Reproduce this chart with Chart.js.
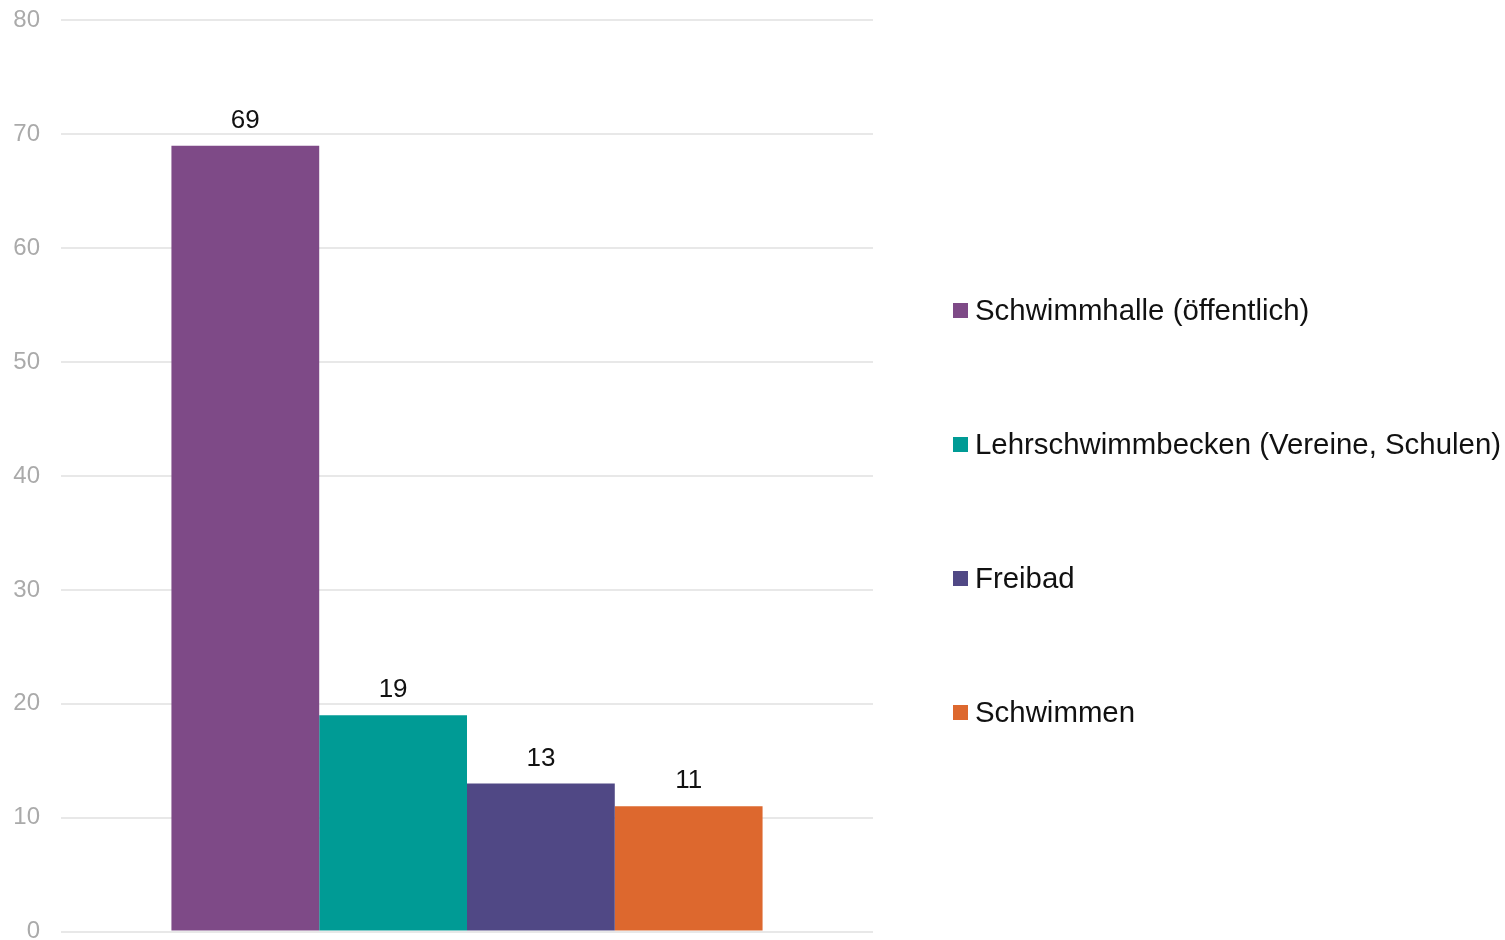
<!DOCTYPE html>
<html>
<head>
<meta charset="utf-8">
<script src="https://cdn.jsdelivr.net/npm/chart.js@4"></script>
<style>
  body { margin: 0; background: #fff; font-family: "Liberation Sans", Arial, sans-serif; }
  #wrap { position: relative; width: 1505px; height: 940px; overflow: hidden; }
  #chart { position: absolute; left: 0; top: -15px; }
  #legend { position: absolute; left: 953px; top: 0; }
  .item { position: absolute; white-space: nowrap; font-size: 29.4px; color: #111; height: 30px; line-height: 30px; }
  .item span.box { position: absolute; left: 0; top: 8px; width: 15px; height: 15px; }
  .item span.txt { position: absolute; left: 22px; top: 0; }
</style>
</head>
<body>
<div id="wrap">
  <canvas id="chart" width="1505" height="982"></canvas>
  <div id="legend"></div>
</div>
<script>
// data
var categories = [''];
var seriesNames = ['Schwimmhalle (öffentlich)', 'Lehrschwimmbecken (Vereine, Schulen)', 'Freibad', 'Schwimmen'];
var seriesValues = [69, 19, 13, 11];
var seriesColors = ['#7e4a87', '#009b95', '#504885', '#dd682e'];
var yTicks = [0, 10, 20, 30, 40, 50, 60, 70, 80];

var datasets = seriesNames.map(function (name, i) {
    return {
        label: name,
        data: [seriesValues[i]],
        backgroundColor: seriesColors[i],
        borderWidth: 0,
        barPercentage: 1,
        categoryPercentage: 0.728
    };
});

// value labels above bars
var valueLabels = {
    id: 'valueLabels',
    afterDatasetsDraw: function (chart) {
        var ctx = chart.ctx;
        ctx.save();
        ctx.font = '26px "Liberation Sans", Arial, sans-serif';
        ctx.fillStyle = '#111';
        ctx.textAlign = 'center';
        ctx.textBaseline = 'bottom';
        chart.data.datasets.forEach(function (ds, i) {
            chart.getDatasetMeta(i).data.forEach(function (bar, j) {
                ctx.fillText(ds.data[j], bar.x, bar.y - 12);
            });
        });
        ctx.restore();
    }
};

new Chart(document.getElementById('chart').getContext('2d'), {
    type: 'bar',
    data: { labels: categories, datasets: datasets },
    plugins: [valueLabels],
    options: {
        responsive: false,
        animation: false,
        layout: { padding: { top: 5, bottom: -17, right: 632, left: 0 } },
        plugins: { legend: { display: false }, tooltip: { enabled: false } },
        scales: {
            x: { display: false },
            y: {
                min: 0,
                max: 80,
                afterFit: function (scale) { scale.width = 61; },
                afterBuildTicks: function (scale) {
                    scale.ticks = yTicks.map(function (v) { return { value: v }; });
                },
                border: { display: false },
                grid: { color: '#e8e8e8', lineWidth: 2, drawTicks: false },
                ticks: {
                    padding: 21,
                    color: '#aaaaaa',
                    font: { family: '"Liberation Sans", Arial, sans-serif', size: 24 }
                }
            }
        }
    }
});

// legend
var legend = document.getElementById('legend');
var legendY = [310, 444, 578, 712];
seriesNames.forEach(function (name, i) {
    var item = document.createElement('div');
    item.className = 'item';
    item.style.top = (legendY[i] - 15) + 'px';
    item.innerHTML = '<span class="box" style="background:' + seriesColors[i] + '"></span><span class="txt">' + name + '</span>';
    legend.appendChild(item);
});
</script>
</body>
</html>
